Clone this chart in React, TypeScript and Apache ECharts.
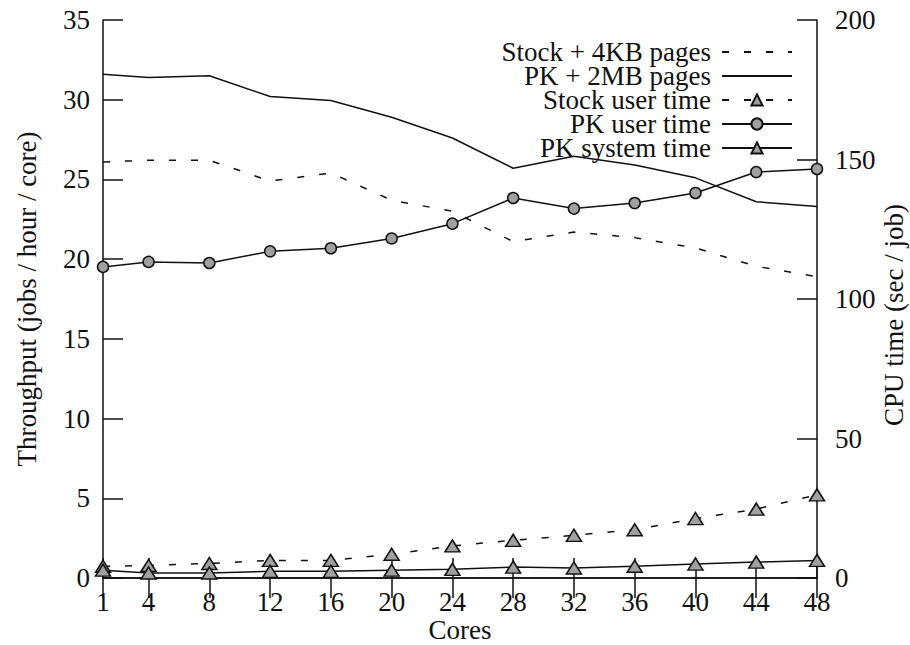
import React, { useEffect, useRef } from "react";
import * as echarts from "echarts";

const cores = [1, 4, 8, 12, 16, 20, 24, 28, 32, 36, 40, 44, 48];
const xTicks = [1, 4, 8, 12, 16, 20, 24, 28, 32, 36, 40, 44, 48];
const stock4kb = [26.1, 26.2, 26.2, 24.9, 25.4, 23.7, 23.0, 21.1, 21.7, 21.35, 20.7, 19.55, 18.9];
const pk2mb = [31.6, 31.4, 31.5, 30.2, 29.95, 28.9, 27.6, 25.7, 26.45, 25.9, 25.1, 23.6, 23.3];
const stockUser = [4.2, 4.5, 5.2, 6.3, 6.3, 8.5, 11.5, 13.5, 15.3, 17.3, 21.3, 24.7, 29.8];
const pkUser = [111.5, 113.3, 112.9, 117.1, 118.2, 121.7, 127.0, 136.2, 132.4, 134.4, 138.0, 145.5, 146.6];
const pkSystem = [2.8, 1.8, 1.8, 2.4, 2.4, 2.8, 3.1, 3.9, 3.6, 4.2, 5.0, 5.7, 6.3];

const FONT = "'Liberation Serif', 'Times New Roman', 'DejaVu Serif', serif";
const INK = "#111";
const GREY = "#a0a0a0";

const pairs = (vals: number[]) => cores.map((c, i) => [c, vals[i]]);

export default function App() {
  const ref = useRef<HTMLDivElement>(null);
  useEffect(() => {
    if (!ref.current) return;
    const chart = echarts.init(ref.current, null, { renderer: "svg" });
    const axisLine = { show: true, lineStyle: { color: INK, width: 1.5 } };
    const tick = { show: true, inside: true, length: 20, lineStyle: { color: INK, width: 1.5 } };
    const label = { color: INK, fontFamily: FONT, fontSize: 27 };
    const nameStyle = { color: INK, fontFamily: FONT, fontSize: 27 };
    const hiddenMark = { color: "rgba(0,0,0,0)", borderColor: "rgba(0,0,0,0)", borderWidth: 0 };
    chart.setOption({
      animation: false,
      backgroundColor: "#fff",
      textStyle: { fontFamily: FONT },
      grid: { left: 103, right: 93, top: 20, bottom: 67, containLabel: false, outerBoundsMode: "none" },
      legend: {
        orient: "vertical",
        right: 117,
        top: 38.5,
        align: "right",
        itemWidth: 70,
        itemHeight: 14,
        itemGap: -3,
        padding: 0,
        textStyle: { color: INK, fontFamily: FONT, fontSize: 27, lineHeight: 24, padding: [0, 6, 0, 0] },
        data: [
          { name: "Stock + 4KB pages", itemStyle: hiddenMark },
          { name: "PK + 2MB pages", itemStyle: hiddenMark },
          { name: "Stock user time" },
          { name: "PK user time" },
          { name: "PK system time" },
        ],
      },
      xAxis: [
        {
          type: "value",
          position: "bottom",
          min: 1,
          max: 48,
          name: "Cores",
          nameLocation: "middle",
          nameGap: 40,
          nameMoveOverlap: false,
          nameTextStyle: { ...nameStyle, lineHeight: 24 },
          splitLine: { show: false },
          axisLine,
          axisTick: { ...tick, customValues: xTicks },
          axisLabel: { ...label, margin: 10, customValues: xTicks },
        },
        {
          type: "value",
          position: "top",
          min: 1,
          max: 48,
          splitLine: { show: false },
          axisLine,
          axisTick: { ...tick, customValues: xTicks },
          axisLabel: { show: false },
        },
      ],
      yAxis: [
        {
          type: "value",
          position: "left",
          min: 0,
          max: 35,
          interval: 5,
          name: "Throughput (jobs / hour / core)",
          nameLocation: "middle",
          nameRotate: 90,
          nameGap: 63,
          nameMoveOverlap: false,
          nameTextStyle: nameStyle,
          splitLine: { show: false },
          axisLine,
          axisTick: tick,
          axisLabel: { ...label, margin: 13 },
        },
        {
          type: "value",
          position: "right",
          min: 0,
          max: 200,
          interval: 50,
          name: "CPU time (sec / job)",
          nameLocation: "middle",
          nameRotate: 90,
          nameGap: 63,
          nameMoveOverlap: false,
          nameTextStyle: { ...nameStyle, padding: [0, 32, 0, 0] },
          splitLine: { show: false },
          axisLine,
          axisTick: tick,
          axisLabel: { ...label, margin: 18 },
        },
      ],
      series: [
        {
          name: "Stock + 4KB pages",
          type: "line",
          xAxisIndex: 0,
          yAxisIndex: 0,
          data: pairs(stock4kb),
          symbol: "none",
          lineStyle: { color: INK, width: 1.5, type: [7, 15] },
          itemStyle: { color: INK },
        },
        {
          name: "PK + 2MB pages",
          type: "line",
          xAxisIndex: 0,
          yAxisIndex: 0,
          data: pairs(pk2mb),
          symbol: "none",
          lineStyle: { color: INK, width: 1.5 },
          itemStyle: { color: INK },
        },
        {
          name: "Stock user time",
          type: "line",
          xAxisIndex: 0,
          yAxisIndex: 1,
          data: pairs(stockUser),
          symbol: "triangle",
          symbolSize: [15, 12],
          lineStyle: { color: INK, width: 1.5, type: [7, 15] },
          itemStyle: { color: GREY, borderColor: INK, borderWidth: 1.5 },
        },
        {
          name: "PK user time",
          type: "line",
          xAxisIndex: 0,
          yAxisIndex: 1,
          data: pairs(pkUser),
          symbol: "circle",
          symbolSize: 11,
          lineStyle: { color: INK, width: 1.5 },
          itemStyle: { color: GREY, borderColor: INK, borderWidth: 1.5 },
        },
        {
          name: "PK system time",
          type: "line",
          xAxisIndex: 0,
          yAxisIndex: 1,
          data: pairs(pkSystem),
          symbol: "triangle",
          symbolSize: [15, 12],
          lineStyle: { color: INK, width: 1.5 },
          itemStyle: { color: GREY, borderColor: INK, borderWidth: 1.5 },
        },
      ],
    });
    return () => chart.dispose();
  }, []);
  return (
    <div
      ref={ref}
      style={{ position: "fixed", left: 0, top: 0, width: 910, height: 645, background: "#fff" }}
    />
  );
}
